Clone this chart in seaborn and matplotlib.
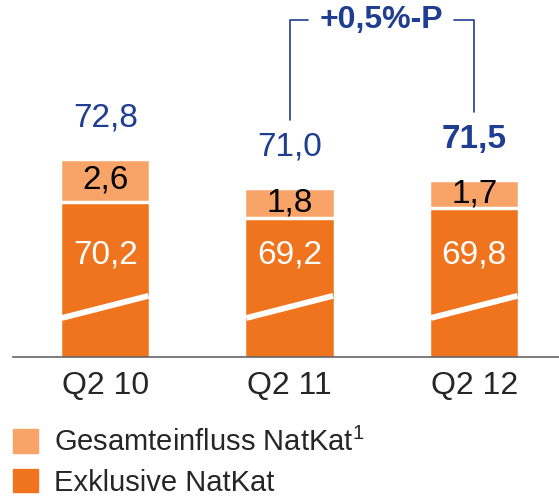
import seaborn as sns
import matplotlib.pyplot as plt
import pandas as pd
from matplotlib.patches import Patch

quarters = ['Q2 10', 'Q2 11', 'Q2 12']
exklusive = [70.2, 69.2, 69.8]
einfluss = [2.6, 1.8, 1.7]
totals = [72.8, 71.0, 71.5]
diff_label = '+0,5%-P'

orange = '#F0731E'
light = '#F8A468'
blue = '#1F3D91'

sns.set_style('white')
plt.rcParams['font.family'] = ['Liberation Sans', 'DejaVu Sans']
plt.rcParams['mathtext.fontset'] = 'custom'
plt.rcParams['mathtext.rm'] = 'Liberation Sans'

df = pd.DataFrame({'quarter': quarters, 'ex': exklusive, 'ein': einfluss, 'total': totals})

def fmt(v):
    return ('%.1f' % v).replace('.', ',')

fig = plt.figure(figsize=(5.59, 4.98), dpi=100)
ax = fig.add_axes([13 / 559, (498 - 357) / 498, (559 - 13) / 559, 357 / 498])

w = 0.49
sns.barplot(data=df, x='quarter', y='total', color=light, width=w,
            edgecolor='white', linewidth=2.5, saturation=1, ax=ax)
sns.barplot(data=df, x='quarter', y='ex', color=orange, width=w,
            edgecolor='white', linewidth=2.5, saturation=1, ax=ax)

ax.set_ylim(60.8, 82.4)
ax.set_xlim(-0.5, 2.46)

# axis break marks
for i in range(len(quarters)):
    ax.plot([i - w / 2 + 0.01, i + w / 2 - 0.01], [63.16, 64.5], color='white',
            lw=4.2, solid_capstyle='butt', zorder=5)

for i, row in df.iterrows():
    ax.text(i, 67.0, fmt(row.ex), ha='center', va='center', color='white', fontsize=24)
    ax.text(i, row.ex + row.ein / 2, fmt(row.ein), ha='center', va='center',
            color='black', fontsize=24)
    ax.annotate(fmt(row.total), (i, row.total), xytext=(0, 41), textcoords='offset pixels',
                ha='center', va='center', color=blue, fontsize=24,
                fontweight='bold' if i == len(quarters) - 1 else 'normal')

# bracket between Q2 11 and Q2 12
top = 81.2
ax.plot([1, 1, 1.1], [totals[1] + 4.15, top, top], color=blue, lw=1.2, clip_on=False)
ax.plot([1.89, 2, 2], [top, top, totals[2] + 4.1], color=blue, lw=1.2, clip_on=False)
ax.text(1.5, top, diff_label, ha='center', va='center', color=blue,
        fontsize=23, fontweight='bold')

for s in ['top', 'right', 'left']:
    ax.spines[s].set_visible(False)
ax.spines['bottom'].set_color('#666666')
ax.spines['bottom'].set_linewidth(1.2)
ax.set_yticks([])
ax.set_xlabel('')
ax.set_ylabel('')
ax.tick_params(axis='x', length=0, pad=10, labelsize=23)

handles = [Patch(color=light), Patch(color=orange)]
labels = ['Gesamteinfluss NatKat$^1$', 'Exklusive NatKat']
fig.legend(handles, labels, loc='upper left', bbox_to_anchor=(13 / 559, 1 - 428 / 498),
           frameon=False, fontsize=21, handlelength=0.85, handleheight=0.85,
           handletextpad=0.55, labelspacing=0.4, borderpad=0, borderaxespad=0)

fig.savefig('out.png', dpi=100)
